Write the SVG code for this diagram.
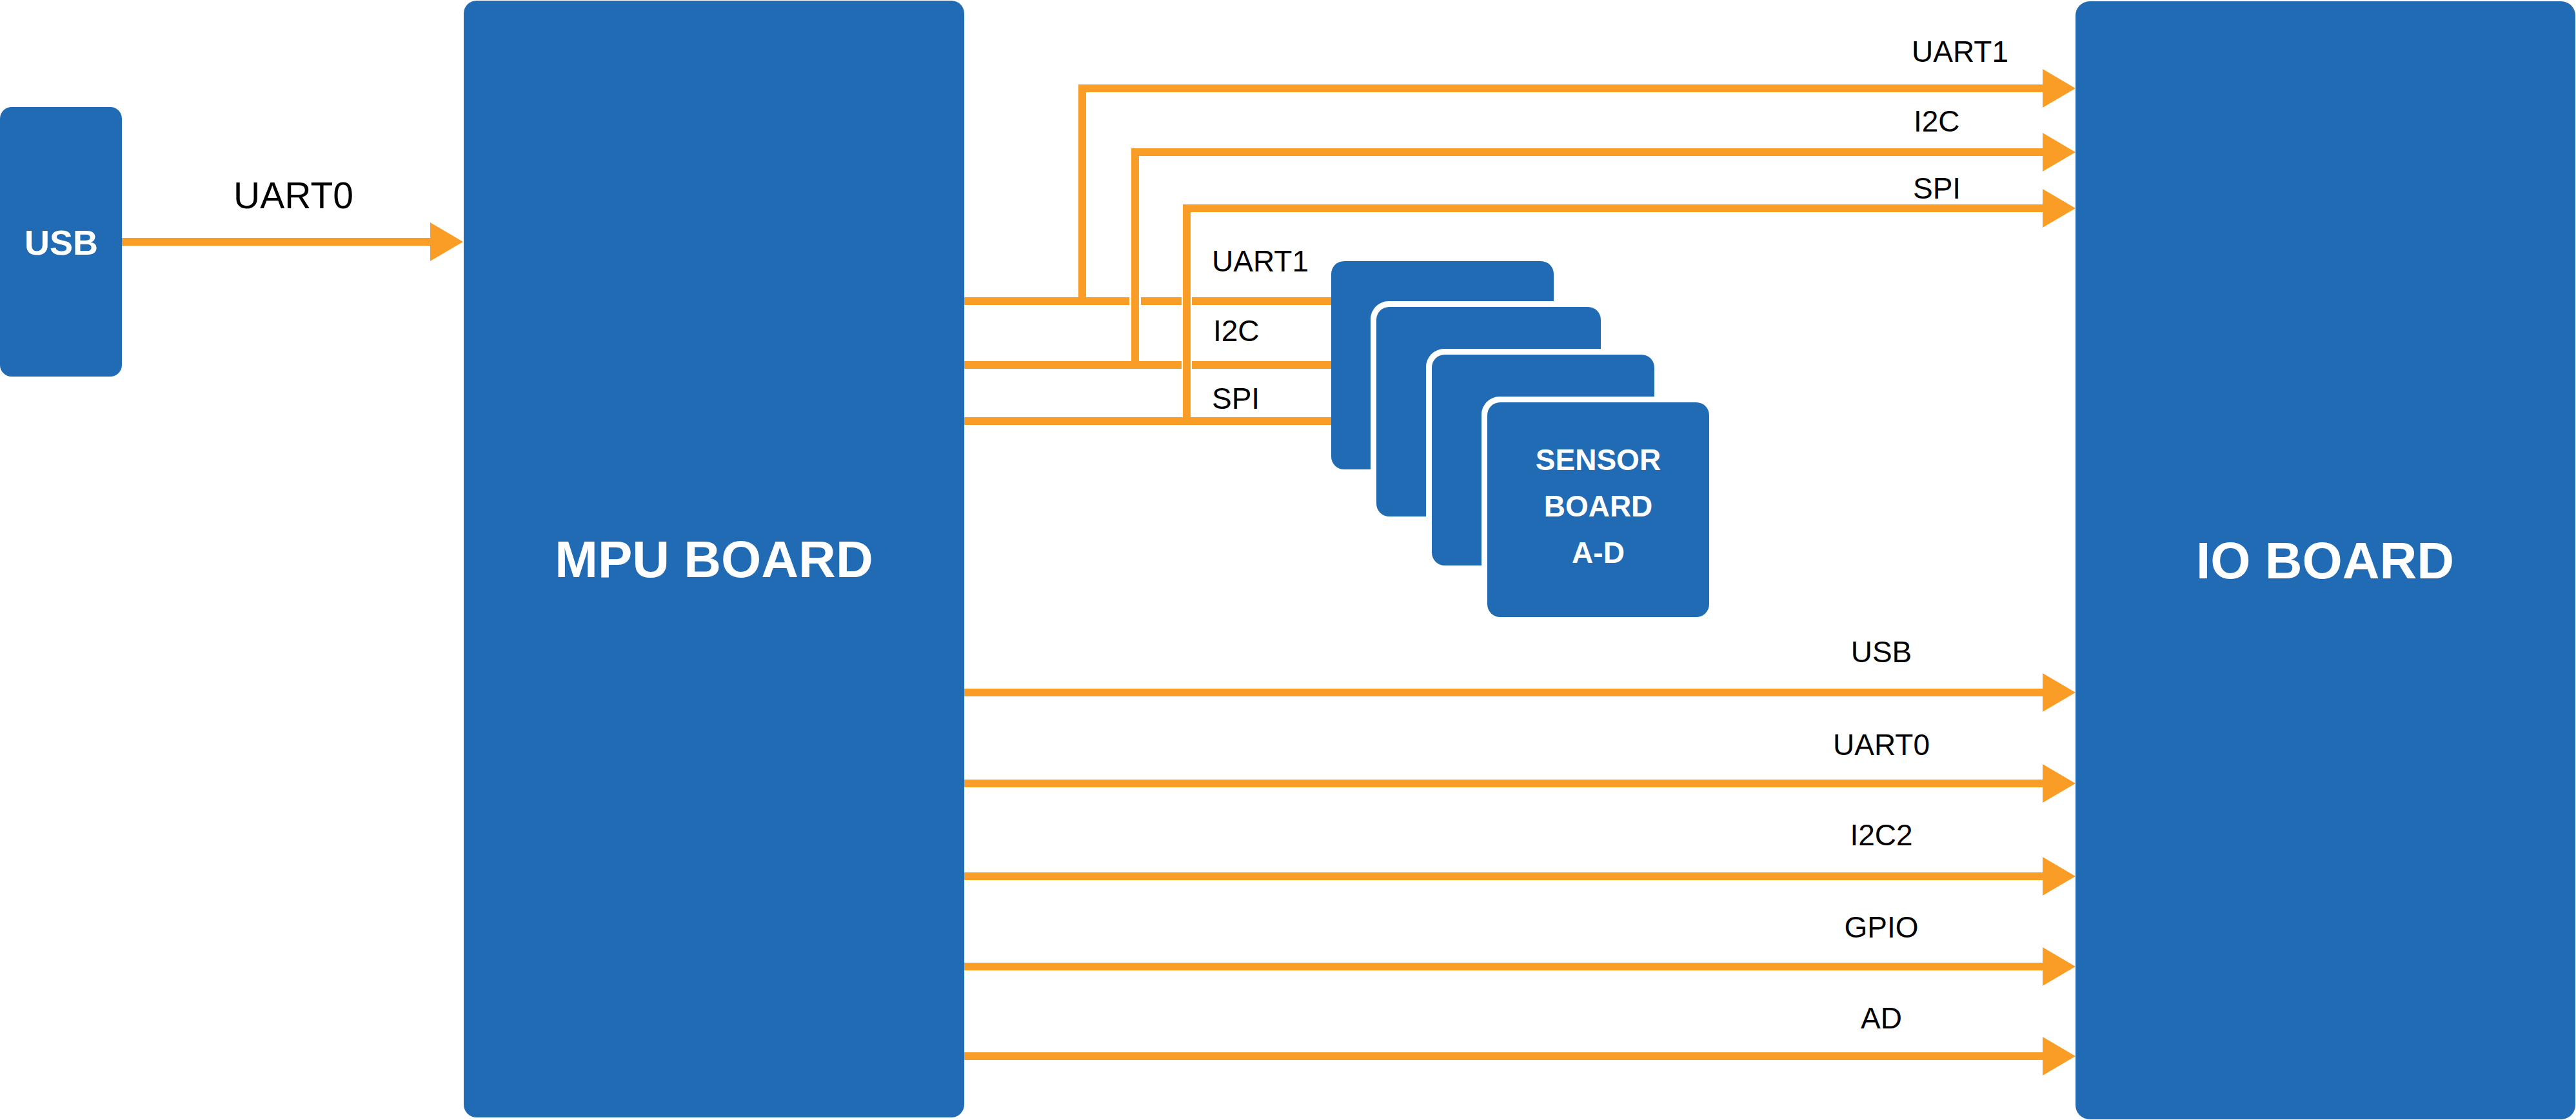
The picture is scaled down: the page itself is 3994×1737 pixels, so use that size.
<svg xmlns="http://www.w3.org/2000/svg" width="3994" height="1737" viewBox="0 0 3994 1737">
  <style>
    .board { fill: #206BB4; }
    .halo { fill: #FFFFFF; }
    .title { font-family: "Liberation Sans", Arial, sans-serif; font-weight: bold; fill: #FFFFFF; text-anchor: middle; }
    .lbl { font-family: "Liberation Sans", Arial, sans-serif; font-size: 46px; fill: #000000; }
    .wire { fill: none; stroke: #F99D26; stroke-width: 12; stroke-linejoin: miter; stroke-linecap: butt; }
  </style>
  <defs>
    <marker id="arrow" markerUnits="userSpaceOnUse" markerWidth="52" markerHeight="60" refX="0" refY="30" orient="auto" overflow="visible">
      <path d="M0,0 L51,30 L0,60 Z" fill="#F99D26"/>
    </marker>
  </defs>
  <rect width="3994" height="1737" fill="#FFFFFF"/>

  <g id="connectors">
    <!-- USB to MPU -->
    <path class="wire" d="M189,375 H667" marker-end="url(#arrow)"/>
    <!-- MPU to sensor boards -->
    <path class="wire" d="M1495,467 H1751 M1769,467 H1832 M1848,467 H2066"/>
    <path class="wire" d="M1495,566 H1832 M1848,566 H2066"/>
    <path class="wire" d="M1495,653 H2066"/>
    <!-- branches to IO board -->
    <path class="wire" d="M1678,467 V137 H3167" marker-end="url(#arrow)"/>
    <path class="wire" d="M1760,566 V236 H3167" marker-end="url(#arrow)"/>
    <path class="wire" d="M1840,653 V323 H3167" marker-end="url(#arrow)"/>
    <!-- MPU to IO board -->
    <path class="wire" d="M1495,1074 H3167" marker-end="url(#arrow)"/>
    <path class="wire" d="M1495,1215 H3167" marker-end="url(#arrow)"/>
    <path class="wire" d="M1495,1359 H3167" marker-end="url(#arrow)"/>
    <path class="wire" d="M1495,1499 H3167" marker-end="url(#arrow)"/>
    <path class="wire" d="M1495,1638 H3167" marker-end="url(#arrow)"/>
    <!-- labels -->
    <text class="lbl" x="455" y="323" font-size="57" style="font-size:57px" text-anchor="middle">UART0</text>
    <text class="lbl" x="1879" y="421">UART1</text>
    <text class="lbl" x="1881" y="529">I2C</text>
    <text class="lbl" x="1879" y="634">SPI</text>
    <text class="lbl" x="2964" y="96">UART1</text>
    <text class="lbl" x="2967" y="204">I2C</text>
    <text class="lbl" x="2966" y="308">SPI</text>
    <text class="lbl" x="2917" y="1027" text-anchor="middle">USB</text>
    <text class="lbl" x="2917" y="1171" text-anchor="middle">UART0</text>
    <text class="lbl" x="2917" y="1311" text-anchor="middle">I2C2</text>
    <text class="lbl" x="2917" y="1454" text-anchor="middle">GPIO</text>
    <text class="lbl" x="2917" y="1595" text-anchor="middle">AD</text>
  </g>

  <g id="usb">
    <rect class="board" x="0" y="166" width="189" height="418" rx="18"/>
    <text class="title" x="95" y="395" font-size="54">USB</text>
  </g>

  <g id="mpu-board">
    <rect class="board" x="719" y="1" width="776" height="1732" rx="20"/>
    <text class="title" x="1107" y="895" font-size="80">MPU BOARD</text>
  </g>

  <g id="sensor-boards">
    <rect class="board" x="2064" y="405" width="345" height="323" rx="20"/>
    <rect class="halo" x="2125" y="467" width="366" height="343" rx="28"/>
    <rect class="board" x="2134" y="476" width="348" height="325" rx="20"/>
    <rect class="halo" x="2211" y="541" width="363" height="345" rx="28"/>
    <rect class="board" x="2220" y="550" width="345" height="327" rx="20"/>
    <rect class="halo" x="2297" y="615" width="362" height="351" rx="28"/>
    <rect class="board" x="2306" y="624" width="344" height="333" rx="20"/>
    <text class="title" x="2478" y="729" font-size="46">SENSOR</text>
    <text class="title" x="2478" y="801" font-size="46">BOARD</text>
    <text class="title" x="2478" y="873" font-size="46">A-D</text>
  </g>

  <g id="io-board">
    <rect class="board" x="3218" y="2" width="775" height="1734" rx="22"/>
    <text class="title" x="3605" y="897" font-size="80">IO BOARD</text>
  </g>
</svg>
